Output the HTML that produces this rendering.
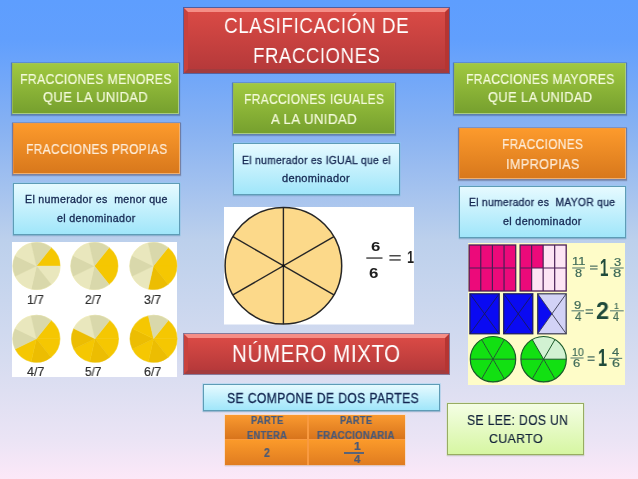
<!DOCTYPE html>
<html><head><meta charset="utf-8">
<style>
html,body{margin:0;padding:0;}
body{width:638px;height:479px;position:relative;overflow:hidden;
 background:linear-gradient(to bottom,#5e9efe 0px,#619ffd 40px,#88b2f2 130px,#bcd0ec 240px,#d6dcf0 360px,#ebe4f5 440px,#fce8f8 479px);
 font-family:"Liberation Sans",sans-serif;}
.t{position:absolute;white-space:nowrap;transform-origin:0 0;font-family:"Liberation Sans",sans-serif;will-change:transform;}
.b{position:absolute;box-sizing:border-box;}
.ov{position:absolute;left:0;top:0;}
.red{border-style:solid;border-width:4px;border-top-color:#f58e86;border-left-color:#c9423d;border-right-color:#b53532;border-bottom-color:#a23c3e;
 background:linear-gradient(#d94a45,#b6393a);box-shadow:0 0 0 1px rgba(70,40,80,.55);}
.green{background:linear-gradient(#a0c840,#76a02e);border:1px solid #a9cc84;border-top-color:#a2c45a;border-left-color:#96b850;box-shadow:0 0 0 1px rgba(60,90,120,.25),0 1px 1px 1px rgba(40,60,90,.3);}
.orange{background:linear-gradient(#fc9a2c,#d8781c);border:1px solid #f0b070;border-top-color:#f29a40;border-left-color:#e88a38;box-shadow:0 0 0 1px rgba(100,80,90,.25),0 1px 1px 1px rgba(60,50,70,.3);}
.cyan{background:linear-gradient(#e6faff,#a0e6fa);border:1px solid #5e9cb6;box-shadow:0 0 0 1px rgba(140,210,240,.35),0 1px 1px 0px rgba(40,70,100,.35);}
.lgreen{background:linear-gradient(#f4fee4,#d6f6a2);border:1px solid #98ac62;box-shadow:0 0 0 1px rgba(220,240,200,.4),0 1px 1px 0px rgba(60,70,60,.3);}
</style></head><body>
<!-- boxes -->
<div class="b red" style="left:184px;top:8px;width:265px;height:65px;"></div>
<div class="b green" style="left:12px;top:63px;width:167px;height:51px;"></div>
<div class="b green" style="left:233px;top:83px;width:162px;height:51px;"></div>
<div class="b green" style="left:454px;top:63px;width:172px;height:51px;"></div>
<div class="b orange" style="left:13px;top:123px;width:167px;height:51px;"></div>
<div class="b orange" style="left:459px;top:128px;width:167px;height:51px;"></div>
<div class="b cyan" style="left:13px;top:183px;width:167px;height:52px;"></div>
<div class="b cyan" style="left:233px;top:143px;width:167px;height:52px;"></div>
<div class="b cyan" style="left:459px;top:186px;width:167px;height:52px;"></div>
<div class="b red" style="left:184px;top:334px;width:265px;height:40px;"></div>
<div class="b cyan" style="left:203px;top:384px;width:237px;height:27px;"></div>
<div class="b lgreen" style="left:447px;top:403px;width:137px;height:52px;"></div>
<!-- table -->
<div class="b" style="left:225px;top:415px;width:180px;height:50px;box-shadow:0 0 0 1px rgba(255,220,190,.6),0 1px 1px rgba(60,50,70,.35);background:#f99a40;">
 <div class="b" style="left:0;top:0;width:82px;height:24px;background:linear-gradient(#fa9a30,#d8741c);"></div>
 <div class="b" style="left:84px;top:0;width:96px;height:24px;background:linear-gradient(#fa9a30,#d8741c);"></div>
 <div class="b" style="left:0;top:25px;width:82px;height:25px;background:linear-gradient(#fb9a2a,#e07c20);"></div>
 <div class="b" style="left:84px;top:25px;width:96px;height:25px;background:linear-gradient(#fb9a2a,#e07c20);"></div>
</div>
<div class="b" style="left:344.4px;top:452.2px;width:20px;height:1.4px;background:#5a6478;"></div>
<!-- images -->
<div class="b" style="left:12px;top:242px;width:165px;height:135px;background:#fff;"></div>
<div class="b" style="left:224px;top:207px;width:190px;height:117px;background:#fff;box-shadow:0 1px 0 rgba(255,255,255,.5);"></div>
<div class="b" style="left:468px;top:243px;width:157px;height:142px;background:#fefcc8;"></div>
<svg class='ov' width='638' height='479' viewBox='0 0 638 479'>
<circle cx='36.5' cy='266.0' r='24.1' fill='#f4eca8' opacity='0.7'/>
<path d='M36.50,266.00 L60.00,266.00 A23.50,23.50 0 0 0 51.15,247.63 Z' fill='#f5c702' stroke='#f5c702' stroke-width='0.4'/>
<path d='M36.50,266.00 L51.15,284.37 A23.50,23.50 0 0 0 60.00,266.00 Z' fill='#e9e7bd' stroke='#e9e7bd' stroke-width='0.4'/>
<path d='M36.50,266.00 L31.27,288.91 A23.50,23.50 0 0 0 51.15,284.37 Z' fill='#d9d8ab' stroke='#d9d8ab' stroke-width='0.4'/>
<path d='M36.50,266.00 L15.33,276.20 A23.50,23.50 0 0 0 31.27,288.91 Z' fill='#e9e7bd' stroke='#e9e7bd' stroke-width='0.4'/>
<path d='M36.50,266.00 L15.33,255.80 A23.50,23.50 0 0 0 15.33,276.20 Z' fill='#d9d8ab' stroke='#d9d8ab' stroke-width='0.4'/>
<path d='M36.50,266.00 L31.27,243.09 A23.50,23.50 0 0 0 15.33,255.80 Z' fill='#e9e7bd' stroke='#e9e7bd' stroke-width='0.4'/>
<path d='M36.50,266.00 L51.15,247.63 A23.50,23.50 0 0 0 31.27,243.09 Z' fill='#d9d8ab' stroke='#d9d8ab' stroke-width='0.4'/>
<circle cx='94.4' cy='266.0' r='24.1' fill='#f4eca8' opacity='0.7'/>
<path d='M94.40,266.00 L117.90,266.00 A23.50,23.50 0 0 0 109.05,247.63 Z' fill='#f5c702' stroke='#f5c702' stroke-width='0.4'/>
<path d='M94.40,266.00 L109.05,284.37 A23.50,23.50 0 0 0 117.90,266.00 Z' fill='#f5c702' stroke='#f5c702' stroke-width='0.4'/>
<path d='M94.40,266.00 L89.17,288.91 A23.50,23.50 0 0 0 109.05,284.37 Z' fill='#d9d8ab' stroke='#d9d8ab' stroke-width='0.4'/>
<path d='M94.40,266.00 L73.23,276.20 A23.50,23.50 0 0 0 89.17,288.91 Z' fill='#e9e7bd' stroke='#e9e7bd' stroke-width='0.4'/>
<path d='M94.40,266.00 L73.23,255.80 A23.50,23.50 0 0 0 73.23,276.20 Z' fill='#d9d8ab' stroke='#d9d8ab' stroke-width='0.4'/>
<path d='M94.40,266.00 L89.17,243.09 A23.50,23.50 0 0 0 73.23,255.80 Z' fill='#e9e7bd' stroke='#e9e7bd' stroke-width='0.4'/>
<path d='M94.40,266.00 L109.05,247.63 A23.50,23.50 0 0 0 89.17,243.09 Z' fill='#d9d8ab' stroke='#d9d8ab' stroke-width='0.4'/>
<circle cx='153.4' cy='266.0' r='24.1' fill='#f4eca8' opacity='0.7'/>
<path d='M153.40,266.00 L176.90,266.00 A23.50,23.50 0 0 0 168.05,247.63 Z' fill='#f5c702' stroke='#f5c702' stroke-width='0.4'/>
<path d='M153.40,266.00 L168.05,284.37 A23.50,23.50 0 0 0 176.90,266.00 Z' fill='#f5c702' stroke='#f5c702' stroke-width='0.4'/>
<path d='M153.40,266.00 L148.17,288.91 A23.50,23.50 0 0 0 168.05,284.37 Z' fill='#ecbd02' stroke='#ecbd02' stroke-width='0.4'/>
<path d='M153.40,266.00 L132.23,276.20 A23.50,23.50 0 0 0 148.17,288.91 Z' fill='#e9e7bd' stroke='#e9e7bd' stroke-width='0.4'/>
<path d='M153.40,266.00 L132.23,255.80 A23.50,23.50 0 0 0 132.23,276.20 Z' fill='#d9d8ab' stroke='#d9d8ab' stroke-width='0.4'/>
<path d='M153.40,266.00 L148.17,243.09 A23.50,23.50 0 0 0 132.23,255.80 Z' fill='#e9e7bd' stroke='#e9e7bd' stroke-width='0.4'/>
<path d='M153.40,266.00 L168.05,247.63 A23.50,23.50 0 0 0 148.17,243.09 Z' fill='#d9d8ab' stroke='#d9d8ab' stroke-width='0.4'/>
<circle cx='36.4' cy='338.8' r='24.1' fill='#f4eca8' opacity='0.7'/>
<path d='M36.40,338.80 L59.90,338.80 A23.50,23.50 0 0 0 51.05,320.43 Z' fill='#f5c702' stroke='#f5c702' stroke-width='0.4'/>
<path d='M36.40,338.80 L51.05,357.17 A23.50,23.50 0 0 0 59.90,338.80 Z' fill='#f5c702' stroke='#f5c702' stroke-width='0.4'/>
<path d='M36.40,338.80 L31.17,361.71 A23.50,23.50 0 0 0 51.05,357.17 Z' fill='#ecbd02' stroke='#ecbd02' stroke-width='0.4'/>
<path d='M36.40,338.80 L15.23,349.00 A23.50,23.50 0 0 0 31.17,361.71 Z' fill='#f5c702' stroke='#f5c702' stroke-width='0.4'/>
<path d='M36.40,338.80 L15.23,328.60 A23.50,23.50 0 0 0 15.23,349.00 Z' fill='#d9d8ab' stroke='#d9d8ab' stroke-width='0.4'/>
<path d='M36.40,338.80 L31.17,315.89 A23.50,23.50 0 0 0 15.23,328.60 Z' fill='#e9e7bd' stroke='#e9e7bd' stroke-width='0.4'/>
<path d='M36.40,338.80 L51.05,320.43 A23.50,23.50 0 0 0 31.17,315.89 Z' fill='#d9d8ab' stroke='#d9d8ab' stroke-width='0.4'/>
<circle cx='95.0' cy='338.8' r='24.1' fill='#f4eca8' opacity='0.7'/>
<path d='M95.00,338.80 L118.50,338.80 A23.50,23.50 0 0 0 109.65,320.43 Z' fill='#f5c702' stroke='#f5c702' stroke-width='0.4'/>
<path d='M95.00,338.80 L109.65,357.17 A23.50,23.50 0 0 0 118.50,338.80 Z' fill='#f5c702' stroke='#f5c702' stroke-width='0.4'/>
<path d='M95.00,338.80 L89.77,361.71 A23.50,23.50 0 0 0 109.65,357.17 Z' fill='#ecbd02' stroke='#ecbd02' stroke-width='0.4'/>
<path d='M95.00,338.80 L73.83,349.00 A23.50,23.50 0 0 0 89.77,361.71 Z' fill='#f5c702' stroke='#f5c702' stroke-width='0.4'/>
<path d='M95.00,338.80 L73.83,328.60 A23.50,23.50 0 0 0 73.83,349.00 Z' fill='#ecbd02' stroke='#ecbd02' stroke-width='0.4'/>
<path d='M95.00,338.80 L89.77,315.89 A23.50,23.50 0 0 0 73.83,328.60 Z' fill='#e9e7bd' stroke='#e9e7bd' stroke-width='0.4'/>
<path d='M95.00,338.80 L109.65,320.43 A23.50,23.50 0 0 0 89.77,315.89 Z' fill='#d9d8ab' stroke='#d9d8ab' stroke-width='0.4'/>
<circle cx='153.6' cy='338.8' r='24.1' fill='#f4eca8' opacity='0.7'/>
<path d='M153.60,338.80 L177.10,338.80 A23.50,23.50 0 0 0 168.25,320.43 Z' fill='#f5c702' stroke='#f5c702' stroke-width='0.4'/>
<path d='M153.60,338.80 L168.25,357.17 A23.50,23.50 0 0 0 177.10,338.80 Z' fill='#f5c702' stroke='#f5c702' stroke-width='0.4'/>
<path d='M153.60,338.80 L148.37,361.71 A23.50,23.50 0 0 0 168.25,357.17 Z' fill='#ecbd02' stroke='#ecbd02' stroke-width='0.4'/>
<path d='M153.60,338.80 L132.43,349.00 A23.50,23.50 0 0 0 148.37,361.71 Z' fill='#f5c702' stroke='#f5c702' stroke-width='0.4'/>
<path d='M153.60,338.80 L132.43,328.60 A23.50,23.50 0 0 0 132.43,349.00 Z' fill='#ecbd02' stroke='#ecbd02' stroke-width='0.4'/>
<path d='M153.60,338.80 L148.37,315.89 A23.50,23.50 0 0 0 132.43,328.60 Z' fill='#f5c702' stroke='#f5c702' stroke-width='0.4'/>
<path d='M153.60,338.80 L168.25,320.43 A23.50,23.50 0 0 0 148.37,315.89 Z' fill='#d9d8ab' stroke='#d9d8ab' stroke-width='0.4'/>
<circle cx='283.4' cy='265.8' r='58.3' fill='#fcd98a' stroke='#262626' stroke-width='1.5'/>
<line x1='283.40' y1='207.50' x2='283.40' y2='324.10' stroke='#262626' stroke-width='1.4'/>
<line x1='333.89' y1='236.65' x2='232.91' y2='294.95' stroke='#262626' stroke-width='1.4'/>
<line x1='333.89' y1='294.95' x2='232.91' y2='236.65' stroke='#262626' stroke-width='1.4'/>
<circle cx='283.4' cy='265.8' r='1.5' fill='#111'/>
<rect x='469.1' y='245.0' width='46.60000000000002' height='46.0' fill='#ec0a7a'/>
<rect x='520.10' y='245.00' width='11.53' height='23.00' fill='#ec0a7a'/>
<rect x='531.62' y='245.00' width='11.53' height='23.00' fill='#ec0a7a'/>
<rect x='543.15' y='245.00' width='11.53' height='23.00' fill='#fde4f4'/>
<rect x='554.68' y='245.00' width='11.53' height='23.00' fill='#fde4f4'/>
<rect x='520.10' y='268.00' width='11.53' height='23.00' fill='#ec0a7a'/>
<rect x='531.62' y='268.00' width='11.53' height='23.00' fill='#fde4f4'/>
<rect x='543.15' y='268.00' width='11.53' height='23.00' fill='#fde4f4'/>
<rect x='554.68' y='268.00' width='11.53' height='23.00' fill='#fde4f4'/>
<rect x='469.1' y='245.0' width='46.60' height='46.0' fill='none' stroke='#4a1e56' stroke-width='1.3'/>
<line x1='480.75' y1='245.0' x2='480.75' y2='291.0' stroke='#4a1e56' stroke-width='1.2'/>
<line x1='492.40' y1='245.0' x2='492.40' y2='291.0' stroke='#4a1e56' stroke-width='1.2'/>
<line x1='504.05' y1='245.0' x2='504.05' y2='291.0' stroke='#4a1e56' stroke-width='1.2'/>
<line x1='469.1' y1='268.0' x2='515.7' y2='268.0' stroke='#4a1e56' stroke-width='1.2'/>
<rect x='520.1' y='245.0' width='46.10' height='46.0' fill='none' stroke='#4a1e56' stroke-width='1.3'/>
<line x1='531.62' y1='245.0' x2='531.62' y2='291.0' stroke='#4a1e56' stroke-width='1.2'/>
<line x1='543.15' y1='245.0' x2='543.15' y2='291.0' stroke='#4a1e56' stroke-width='1.2'/>
<line x1='554.68' y1='245.0' x2='554.68' y2='291.0' stroke='#4a1e56' stroke-width='1.2'/>
<line x1='520.1' y1='268.0' x2='566.2' y2='268.0' stroke='#4a1e56' stroke-width='1.2'/>
<rect x='469.9' y='293.8' width='29.30' height='40.0' fill='#0a0af2'/>
<rect x='469.9' y='293.8' width='29.30' height='40.0' fill='none' stroke='#1a1a5a' stroke-width='1.2'/>
<line x1='469.9' y1='293.8' x2='499.2' y2='333.8' stroke='#1a1a5a' stroke-width='0.9'/>
<line x1='499.2' y1='293.8' x2='469.9' y2='333.8' stroke='#1a1a5a' stroke-width='0.9'/>
<rect x='503.7' y='293.8' width='29.10' height='40.0' fill='#0a0af2'/>
<rect x='503.7' y='293.8' width='29.10' height='40.0' fill='none' stroke='#1a1a5a' stroke-width='1.2'/>
<line x1='503.7' y1='293.8' x2='532.8' y2='333.8' stroke='#1a1a5a' stroke-width='0.9'/>
<line x1='532.8' y1='293.8' x2='503.7' y2='333.8' stroke='#1a1a5a' stroke-width='0.9'/>
<rect x='537.7' y='293.8' width='28.50' height='40.0' fill='#d2d2f6'/>
<path d='M537.7,293.8 L551.95,313.80 L537.7,333.8 Z' fill='#0a0af2'/>
<rect x='537.7' y='293.8' width='28.50' height='40.0' fill='none' stroke='#3a3a50' stroke-width='1.2'/>
<line x1='537.7' y1='293.8' x2='566.2' y2='333.8' stroke='#3a3a50' stroke-width='0.9'/>
<line x1='566.2' y1='293.8' x2='537.7' y2='333.8' stroke='#3a3a50' stroke-width='0.9'/>
<path d='M493.00,359.20 L515.70,359.20 A22.70,22.70 0 0 0 504.35,339.54 Z' fill='#12e012'/>
<path d='M493.00,359.20 L504.35,339.54 A22.70,22.70 0 0 0 481.65,339.54 Z' fill='#12e012'/>
<path d='M493.00,359.20 L481.65,339.54 A22.70,22.70 0 0 0 470.30,359.20 Z' fill='#12e012'/>
<path d='M493.00,359.20 L470.30,359.20 A22.70,22.70 0 0 0 481.65,378.86 Z' fill='#12e012'/>
<path d='M493.00,359.20 L481.65,378.86 A22.70,22.70 0 0 0 504.35,378.86 Z' fill='#12e012'/>
<path d='M493.00,359.20 L504.35,378.86 A22.70,22.70 0 0 0 515.70,359.20 Z' fill='#12e012'/>
<circle cx='493.0' cy='359.2' r='22.7' fill='none' stroke='#1a5a2a' stroke-width='1.2'/>
<line x1='515.70' y1='359.20' x2='470.30' y2='359.20' stroke='#1a5a2a' stroke-width='1'/>
<line x1='504.35' y1='339.54' x2='481.65' y2='378.86' stroke='#1a5a2a' stroke-width='1'/>
<line x1='481.65' y1='339.54' x2='504.35' y2='378.86' stroke='#1a5a2a' stroke-width='1'/>
<path d='M543.60,359.20 L566.30,359.20 A22.70,22.70 0 0 0 554.95,339.54 Z' fill='#d2f2d2'/>
<path d='M543.60,359.20 L554.95,339.54 A22.70,22.70 0 0 0 532.25,339.54 Z' fill='#d2f2d2'/>
<path d='M543.60,359.20 L532.25,339.54 A22.70,22.70 0 0 0 520.90,359.20 Z' fill='#12e012'/>
<path d='M543.60,359.20 L520.90,359.20 A22.70,22.70 0 0 0 532.25,378.86 Z' fill='#12e012'/>
<path d='M543.60,359.20 L532.25,378.86 A22.70,22.70 0 0 0 554.95,378.86 Z' fill='#12e012'/>
<path d='M543.60,359.20 L554.95,378.86 A22.70,22.70 0 0 0 566.30,359.20 Z' fill='#12e012'/>
<circle cx='543.6' cy='359.2' r='22.7' fill='none' stroke='#1a5a2a' stroke-width='1.2'/>
<line x1='566.30' y1='359.20' x2='520.90' y2='359.20' stroke='#1a5a2a' stroke-width='1'/>
<line x1='554.95' y1='339.54' x2='532.25' y2='378.86' stroke='#1a5a2a' stroke-width='1'/>
<line x1='532.25' y1='339.54' x2='554.95' y2='378.86' stroke='#1a5a2a' stroke-width='1'/>
<rect x='389.4' y='255.0' width='11.30' height='1.50' fill='#4a4a4a'/>
<rect x='389.4' y='259.2' width='11.30' height='1.50' fill='#4a4a4a'/>
<rect x='366.3' y='257.3' width='16.20' height='1.50' fill='#4a4a4a'/>
<rect x='572.2' y='267.4' width='12.70' height='1.20' fill='#6a8a7a'/>
<rect x='590' y='265.5' width='7.60' height='1.30' fill='#5a7a6a'/>
<rect x='590' y='268.3' width='7.60' height='1.30' fill='#5a7a6a'/>
<rect x='610' y='267.4' width='13.70' height='1.20' fill='#6a8a7a'/>
<rect x='571.5' y='310.2' width='12.50' height='1.20' fill='#6a8a7a'/>
<rect x='585.6' y='309.2' width='7.40' height='1.40' fill='#5a7a6a'/>
<rect x='585.6' y='312.6' width='7.40' height='1.40' fill='#5a7a6a'/>
<rect x='610' y='310.2' width='13.70' height='1.20' fill='#6a8a7a'/>
<rect x='570.5' y='357.4' width='13.10' height='1.20' fill='#6a8a7a'/>
<rect x='587.6' y='356.2' width='7.00' height='1.40' fill='#5a7a6a'/>
<rect x='587.6' y='359.6' width='7.00' height='1.40' fill='#5a7a6a'/>
<rect x='609' y='357.8' width='13.20' height='1.20' fill='#6a8a7a'/>
</svg>
<div class='t' style='left:224.06px;top:14.72px;font-size:22.46px;line-height:22.46px;color:#ffffff;font-weight:400;transform:scaleX(0.8407);letter-spacing:0.03em;-webkit-text-stroke:0.0px #ffffff;'>CLASIFICACIÓN DE</div>
<div class='t' style='left:253.41px;top:44.62px;font-size:22.46px;line-height:22.46px;color:#ffffff;font-weight:400;transform:scaleX(0.8279);letter-spacing:0.03em;-webkit-text-stroke:0.0px #ffffff;'>FRACCIONES</div>
<div class='t' style='left:19.92px;top:71.78px;font-size:14.35px;line-height:14.35px;color:#f4fadc;font-weight:400;transform:scaleX(0.8520);letter-spacing:0.03em;-webkit-text-stroke:0.2px #f4fadc;'>FRACCIONES MENORES</div>
<div class='t' style='left:42.95px;top:91.27px;font-size:13.77px;line-height:13.77px;color:#f4fadc;font-weight:400;transform:scaleX(0.9408);letter-spacing:0.03em;-webkit-text-stroke:0.2px #f4fadc;'>QUE LA UNIDAD</div>
<div class='t' style='left:26.04px;top:141.82px;font-size:14.06px;line-height:14.06px;color:#fdecd8;font-weight:400;transform:scaleX(0.8523);letter-spacing:0.03em;-webkit-text-stroke:0.2px #fdecd8;'>FRACCIONES PROPIAS</div>
<div class='t' style='left:25.05px;top:195.01px;font-size:10.29px;line-height:10.29px;color:#142650;font-weight:400;transform:scaleX(1.0325);letter-spacing:0.03em;-webkit-text-stroke:0.3px #142650;'>El numerador es&nbsp; menor que</div>
<div class='t' style='left:56.97px;top:212.71px;font-size:10.76px;line-height:10.76px;color:#142650;font-weight:400;transform:scaleX(0.9989);letter-spacing:0.03em;-webkit-text-stroke:0.3px #142650;'>el denominador</div>
<div class='t' style='left:243.94px;top:91.78px;font-size:14.35px;line-height:14.35px;color:#f4fadc;font-weight:400;transform:scaleX(0.8352);letter-spacing:0.03em;-webkit-text-stroke:0.2px #f4fadc;'>FRACCIONES IGUALES</div>
<div class='t' style='left:271.30px;top:111.58px;font-size:14.35px;line-height:14.35px;color:#f4fadc;font-weight:400;transform:scaleX(0.9228);letter-spacing:0.03em;-webkit-text-stroke:0.2px #f4fadc;'>A LA UNIDAD</div>
<div class='t' style='left:241.87px;top:154.72px;font-size:10.87px;line-height:10.87px;color:#142650;font-weight:400;transform:scaleX(0.9510);letter-spacing:0.03em;-webkit-text-stroke:0.3px #142650;'>El numerador es IGUAL que el</div>
<div class='t' style='left:282.06px;top:172.71px;font-size:10.76px;line-height:10.76px;color:#142650;font-weight:400;transform:scaleX(1.0243);letter-spacing:0.03em;-webkit-text-stroke:0.3px #142650;'>denominador</div>
<div class='t' style='left:465.93px;top:71.78px;font-size:14.35px;line-height:14.35px;color:#f4fadc;font-weight:400;transform:scaleX(0.8421);letter-spacing:0.03em;-webkit-text-stroke:0.2px #f4fadc;'>FRACCIONES MAYORES</div>
<div class='t' style='left:488.36px;top:91.27px;font-size:13.77px;line-height:13.77px;color:#f4fadc;font-weight:400;transform:scaleX(0.9354);letter-spacing:0.03em;-webkit-text-stroke:0.2px #f4fadc;'>QUE LA UNIDAD</div>
<div class='t' style='left:501.85px;top:138.14px;font-size:13.91px;line-height:13.91px;color:#fdecd8;font-weight:400;transform:scaleX(0.8518);letter-spacing:0.03em;-webkit-text-stroke:0.2px #fdecd8;'>FRACCIONES</div>
<div class='t' style='left:505.66px;top:156.82px;font-size:14.06px;line-height:14.06px;color:#fdecd8;font-weight:400;transform:scaleX(0.9011);letter-spacing:0.03em;-webkit-text-stroke:0.2px #fdecd8;'>IMPROPIAS</div>
<div class='t' style='left:469.18px;top:197.88px;font-size:10.43px;line-height:10.43px;color:#142650;font-weight:400;transform:scaleX(0.9876);letter-spacing:0.03em;-webkit-text-stroke:0.3px #142650;'>El numerador es&nbsp; MAYOR que</div>
<div class='t' style='left:502.97px;top:215.91px;font-size:10.76px;line-height:10.76px;color:#142650;font-weight:400;transform:scaleX(1.0002);letter-spacing:0.03em;-webkit-text-stroke:0.3px #142650;'>el denominador</div>
<div class='t' style='left:232.26px;top:343.41px;font-size:23.19px;line-height:23.19px;color:#ffffff;font-weight:400;transform:scaleX(0.8844);letter-spacing:0.03em;-webkit-text-stroke:0.0px #ffffff;'>NÚMERO MIXTO</div>
<div class='t' style='left:227.19px;top:390.82px;font-size:14.06px;line-height:14.06px;color:#142650;font-weight:400;transform:scaleX(0.8657);letter-spacing:0.03em;-webkit-text-stroke:0.3px #142650;'>SE COMPONE DE DOS PARTES</div>
<div class='t' style='left:467.09px;top:412.85px;font-size:14.49px;line-height:14.49px;color:#102038;font-weight:400;transform:scaleX(0.8354);letter-spacing:0.03em;-webkit-text-stroke:0.2px #102038;'>SE LEE: DOS UN</div>
<div class='t' style='left:489.38px;top:432.33px;font-size:13.33px;line-height:13.33px;color:#102038;font-weight:400;transform:scaleX(0.9269);letter-spacing:0.03em;-webkit-text-stroke:0.2px #102038;'>CUARTO</div>
<div class='t' style='left:251.34px;top:414.54px;font-size:10.72px;line-height:10.72px;color:#4a5a78;font-weight:700;transform:scaleX(0.8764);letter-spacing:0.03em;-webkit-text-stroke:0.2px #4a5a78;'>PARTE</div>
<div class='t' style='left:247.45px;top:429.72px;font-size:10.87px;line-height:10.87px;color:#4a5a78;font-weight:700;transform:scaleX(0.8603);letter-spacing:0.03em;-webkit-text-stroke:0.2px #4a5a78;'>ENTERA</div>
<div class='t' style='left:264.18px;top:446.61px;font-size:12.17px;line-height:12.17px;color:#4a5a78;font-weight:700;transform:scaleX(0.8717);letter-spacing:0.03em;-webkit-text-stroke:0.2px #4a5a78;'>2</div>
<div class='t' style='left:340.25px;top:414.54px;font-size:10.72px;line-height:10.72px;color:#4a5a78;font-weight:700;transform:scaleX(0.8708);letter-spacing:0.03em;-webkit-text-stroke:0.2px #4a5a78;'>PARTE</div>
<div class='t' style='left:317.23px;top:429.92px;font-size:10.87px;line-height:10.87px;color:#4a5a78;font-weight:700;transform:scaleX(0.8864);letter-spacing:0.03em;-webkit-text-stroke:0.2px #4a5a78;'>FRACCIONARIA</div>
<div class='t' style='left:353.57px;top:440.62px;font-size:10.87px;line-height:10.87px;color:#4a5a78;font-weight:700;transform:scaleX(1.1157);letter-spacing:0.03em;-webkit-text-stroke:0.2px #4a5a78;'>1</div>
<div class='t' style='left:353.89px;top:455.33px;font-size:10.14px;line-height:10.14px;color:#4a5a78;font-weight:700;transform:scaleX(1.1317);letter-spacing:0.03em;-webkit-text-stroke:0.2px #4a5a78;'>4</div>
<div class='t' style='left:27.23px;top:293.95px;font-size:12.61px;line-height:12.61px;color:#303030;font-weight:400;transform:scaleX(0.9631);-webkit-text-stroke:0.2px #303030;'>1/7</div>
<div class='t' style='left:85.21px;top:293.95px;font-size:12.61px;line-height:12.61px;color:#303030;font-weight:400;transform:scaleX(0.9407);-webkit-text-stroke:0.2px #303030;'>2/7</div>
<div class='t' style='left:144.11px;top:293.95px;font-size:12.61px;line-height:12.61px;color:#303030;font-weight:400;transform:scaleX(0.9761);-webkit-text-stroke:0.2px #303030;'>3/7</div>
<div class='t' style='left:26.75px;top:366.25px;font-size:12.61px;line-height:12.61px;color:#303030;font-weight:400;transform:scaleX(0.9914);-webkit-text-stroke:0.2px #303030;'>4/7</div>
<div class='t' style='left:85.33px;top:366.25px;font-size:12.61px;line-height:12.61px;color:#303030;font-weight:400;transform:scaleX(0.9334);-webkit-text-stroke:0.2px #303030;'>5/7</div>
<div class='t' style='left:143.98px;top:366.25px;font-size:12.61px;line-height:12.61px;color:#303030;font-weight:400;transform:scaleX(0.9837);-webkit-text-stroke:0.2px #303030;'>6/7</div>
<div class='t' style='left:371.22px;top:239.79px;font-size:13.62px;line-height:13.62px;color:#1e1e1e;font-weight:700;transform:scaleX(1.2387);'>6</div>
<div class='t' style='left:368.72px;top:265.95px;font-size:14.49px;line-height:14.49px;color:#1e1e1e;font-weight:700;transform:scaleX(1.1644);'>6</div>
<div class='t' style='left:407.45px;top:249.23px;font-size:17.25px;line-height:17.25px;color:#1e1e1e;font-weight:700;transform:scaleX(0.7279);'>1</div>
<div class='t' style='left:571.76px;top:256.20px;font-size:11.59px;line-height:11.59px;color:#3f6a58;font-weight:400;transform:scaleX(1.1184);-webkit-text-stroke:0.2px #3f6a58;'>11</div>
<div class='t' style='left:575.49px;top:268.29px;font-size:11.01px;line-height:11.01px;color:#3f6a58;font-weight:400;transform:scaleX(1.1590);-webkit-text-stroke:0.2px #3f6a58;'>8</div>
<div class='t' style='left:600.11px;top:256.18px;font-size:24.64px;line-height:24.64px;color:#1f4a3b;font-weight:700;transform:scaleX(0.6045);'>1</div>
<div class='t' style='left:614.08px;top:257.32px;font-size:10.87px;line-height:10.87px;color:#3f6a58;font-weight:400;transform:scaleX(1.1940);-webkit-text-stroke:0.2px #3f6a58;'>3</div>
<div class='t' style='left:613.40px;top:268.29px;font-size:11.01px;line-height:11.01px;color:#3f6a58;font-weight:400;transform:scaleX(1.3522);-webkit-text-stroke:0.2px #3f6a58;'>8</div>
<div class='t' style='left:574.35px;top:300.93px;font-size:10.14px;line-height:10.14px;color:#3f6a58;font-weight:400;transform:scaleX(1.2857);-webkit-text-stroke:0.2px #3f6a58;'>9</div>
<div class='t' style='left:574.76px;top:310.46px;font-size:13.19px;line-height:13.19px;color:#3f6a58;font-weight:400;transform:scaleX(0.8920);-webkit-text-stroke:0.2px #3f6a58;'>4</div>
<div class='t' style='left:595.90px;top:299.18px;font-size:24.64px;line-height:24.64px;color:#1f4a3b;font-weight:700;transform:scaleX(0.9526);'>2</div>
<div class='t' style='left:614.31px;top:301.04px;font-size:9.42px;line-height:9.42px;color:#3f6a58;font-weight:400;transform:scaleX(0.9134);-webkit-text-stroke:0.2px #3f6a58;'>1</div>
<div class='t' style='left:613.39px;top:310.46px;font-size:13.19px;line-height:13.19px;color:#3f6a58;font-weight:400;transform:scaleX(0.8028);-webkit-text-stroke:0.2px #3f6a58;'>4</div>
<div class='t' style='left:571.65px;top:346.82px;font-size:10.87px;line-height:10.87px;color:#3f6a58;font-weight:400;transform:scaleX(0.9758);-webkit-text-stroke:0.2px #3f6a58;'>10</div>
<div class='t' style='left:573.35px;top:357.80px;font-size:11.59px;line-height:11.59px;color:#3f6a58;font-weight:400;transform:scaleX(1.1250);-webkit-text-stroke:0.2px #3f6a58;'>6</div>
<div class='t' style='left:598.03px;top:346.27px;font-size:24.06px;line-height:24.06px;color:#1f4a3b;font-weight:700;transform:scaleX(0.6721);'>1</div>
<div class='t' style='left:612.34px;top:347.32px;font-size:10.87px;line-height:10.87px;color:#3f6a58;font-weight:400;transform:scaleX(1.1906);-webkit-text-stroke:0.2px #3f6a58;'>4</div>
<div class='t' style='left:611.88px;top:357.80px;font-size:11.59px;line-height:11.59px;color:#3f6a58;font-weight:400;transform:scaleX(1.2375);-webkit-text-stroke:0.2px #3f6a58;'>6</div>
</body></html>
